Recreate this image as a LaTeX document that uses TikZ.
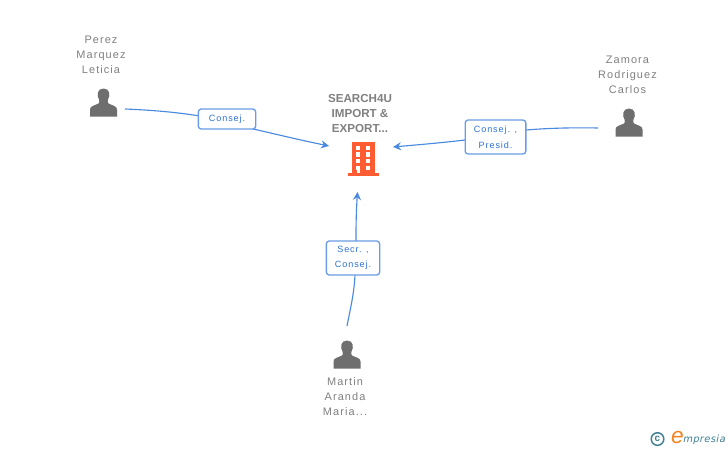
\documentclass[tikz,border=0pt]{standalone}
\usepackage{fontspec}
\setmainfont{Liberation Sans}
\newfontfamily\spaced[LetterSpace=10]{Liberation Sans}
\newfontfamily\logofont[LetterSpace=4]{DejaVu Sans}
\usetikzlibrary{arrows.meta}
\definecolor{txtgray}{HTML}{808080}
\definecolor{icongray}{HTML}{6E6E6E}
\definecolor{linkblue}{HTML}{4A8AE0}
\definecolor{boxblue}{HTML}{6A9DE6}
\definecolor{labblue}{HTML}{2F74D8}
\definecolor{bldg}{HTML}{FF5C33}
\definecolor{logoteal}{HTML}{3F8093}
\definecolor{logoorange}{HTML}{F58220}
\tikzset{
  x=0.75pt,y=-0.75pt,
  personname/.style={font=\spaced\fontsize{8.2pt}{11.25pt}\selectfont,text=txtgray,align=center,inner sep=0pt},
  company/.style={font=\bfseries\fontsize{8.7pt}{11.25pt}\selectfont,text=txtgray,align=center,inner sep=0pt},
  rolebox/.style={draw=boxblue,line width=1pt,rounded corners=2.2pt,fill=white,inner sep=0pt,
    font=\spaced\fontsize{6.8pt}{11.25pt}\selectfont,text=labblue,align=center},
  link/.style={draw=linkblue,line width=0.85pt},
  arrowlink/.style={link,-{Stealth[length=6pt,width=6pt]}},
  anchorpt/.style={inner sep=0pt,minimum size=0pt}
}
\newcommand{\personicon}[2]{%
  \fill[icongray,shift={(#1,#2)}]
    (-13.5,14) -- (-13.5,7) .. controls (-13.5,3.5) and (-9,3) .. (-5,1)
    .. controls (-4,0) and (-4,-1) .. (-4.5,-3)
    .. controls (-7,-7) and (-6.5,-14) .. (0,-14)
    .. controls (6.5,-14) and (7,-7) .. (4.5,-3)
    .. controls (4,-1) and (4,0) .. (5,1)
    .. controls (9,3) and (13.5,3.5) .. (13.5,7) -- (13.5,14) -- cycle;}
\begin{document}
\begin{tikzpicture}
\useasboundingbox (0,0) rectangle (728,450);
\fill[white] (0,0) rectangle (728,450);

% people
\personicon{103.5}{102.5}
\personicon{629}{122.5}
\personicon{347}{354.5}
\node[anchorpt,minimum width=21pt,minimum height=21pt] (perez) at (103.5,102.5) {};
\node[anchorpt,minimum width=21pt,minimum height=21pt] (zamora) at (629,122.5) {};
\node[anchorpt,minimum width=21pt,minimum height=21pt] (martin) at (347,354.5) {};
\node[personname] (perezname) at (101,55) {Perez\\Marquez\\Leticia};
\node[personname] (zamoraname) at (627.5,75) {Zamora\\Rodriguez\\Carlos};
\node[personname] (martinname) at (345,397) {Martin\\Aranda\\Maria...};

% company
\node[company] (companyname) at (360,113.5) {SEARCH4U\\IMPORT \&\\EXPORT...};
\node[anchorpt,minimum width=24pt,minimum height=26pt] (company) at (363,159) {};
\fill[bldg] (351.5,142) rectangle (374.5,173);
\fill[bldg] (347.5,172.5) rectangle (379,176);
\foreach \cx in {355.7,365.7}{\foreach \cy in {145.7,152.4,159,165.7}{
  \fill[white] (\cx,\cy) rectangle ++(4.6,4.2);}}
\fill[white] (356.5,165.7) rectangle (360.3,173);

% free ends
\coordinate (perezend) at (125,109);
\coordinate (zamoraend) at (598,128);
\coordinate (martinend) at (347,326);
\coordinate (cwest) at (329,146);
\coordinate (ceast) at (393,147);
\coordinate (csouth) at (357.5,192);
\coordinate (r1out) at (249,128);
\coordinate (r2out) at (465,140);
\coordinate (r3out) at (356,241);

% connectors
\draw[link] (perezend) .. controls (150,110) and (175,112) .. (200,116);
\draw[arrowlink] (r1out) .. controls (275,134) and (300,140) .. (cwest);
\draw[link] (zamoraend) .. controls (575,127.5) and (550,128) .. (526,130);
\draw[arrowlink] (r2out) .. controls (440,143) and (415,145) .. (ceast);
\draw[link] (martinend) .. controls (350,310) and (354,295) .. (355,275);
\draw[arrowlink] (r3out) .. controls (356,230) and (356,215) .. (csouth);

% role boxes
\node[rolebox,minimum width=43pt,minimum height=15pt,yshift=-0.75pt] (r1) at (227,118) {\raisebox{-1pt}{Consej.}};
\node[rolebox,minimum width=45.5pt,minimum height=25.5pt] (r2) at (495.5,137) {\raisebox{-1pt}{\shortstack{Consej. ,\\[2.4pt]Presid.}}};
\node[rolebox,minimum width=40pt,minimum height=25.5pt] (r3) at (353,258) {\raisebox{-2pt}{\shortstack{Secr. ,\\[2.4pt]Consej.}}};

% logo
\draw[draw=logoteal,line width=1.1pt] (657.5,439) circle (6.3);
\node[anchorpt,text=logoteal,font=\bfseries\fontsize{7.5pt}{7.5pt}\selectfont] (copyc) at (657.5,438.5) {c};
\node[anchorpt,text=logoorange,font=\itshape\fontsize{17pt}{17pt}\selectfont] (logoe) at (677.5,438) {e};
\node[anchorpt,anchor=west,text=logoteal,font=\logofont\itshape\fontsize{7.4pt}{8pt}\selectfont] (logo) at (683,439.5) {mpresia};
\end{tikzpicture}
\end{document}
